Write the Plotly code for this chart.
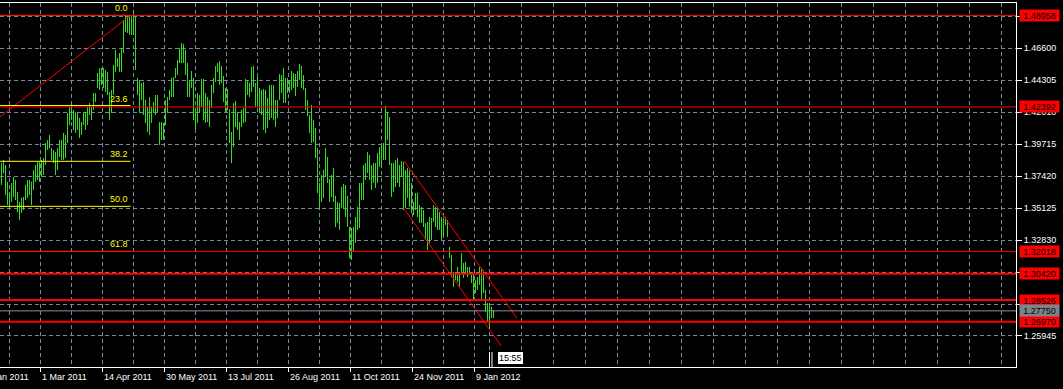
import plotly.graph_objects as go

# ---- daily bars (high / low), bar index 0 = first visible bar ----
bar_high = [
    1.3836, 1.3858, 1.3822, 1.3701, 1.3622, 1.3693, 1.3736, 1.3715, 1.3629, 1.3557,
    1.3586, 1.3593, 1.3679, 1.3715, 1.3715, 1.3701, 1.3786, 1.3822, 1.3844, 1.3844,
    1.3858, 1.3872, 1.3980, 1.4002, 1.4038, 1.3944, 1.3930, 1.3915, 1.3944, 1.4002,
    1.4002, 1.4052, 1.4038, 1.4196, 1.4239, 1.4267, 1.4217, 1.4203, 1.4196, 1.4160,
    1.4131, 1.4203, 1.4203, 1.4239, 1.4267, 1.4239, 1.4339, 1.4339, 1.4483, 1.4519,
    1.4519, 1.4519, 1.4504, 1.4490, 1.4346, 1.4361, 1.4540, 1.4648, 1.4590, 1.4626,
    1.4662, 1.4863, 1.4899, 1.4899, 1.4885, 1.4899, 1.4935, 1.4899, 1.4447, 1.4432,
    1.4411, 1.4418, 1.4289, 1.4239, 1.4310, 1.4239, 1.4274, 1.4325, 1.4325, 1.4131,
    1.4131, 1.4124, 1.4289, 1.4310, 1.4361, 1.4447, 1.4454, 1.4519, 1.4576, 1.4662,
    1.4698, 1.4691, 1.4648, 1.4555, 1.4432, 1.4497, 1.4447, 1.4232, 1.4339, 1.4325,
    1.4440, 1.4440, 1.4339, 1.4310, 1.4289, 1.4397, 1.4447, 1.4533, 1.4555, 1.4569,
    1.4533, 1.4461, 1.4375, 1.4368, 1.4224, 1.4059, 1.4267, 1.4282, 1.4203, 1.4131,
    1.4217, 1.4232, 1.4440, 1.4432, 1.4411, 1.4526, 1.4533, 1.4411, 1.4454, 1.4375,
    1.4361, 1.4368, 1.4361, 1.4303, 1.4397, 1.4397, 1.4397, 1.4289, 1.4289, 1.4476,
    1.4468, 1.4519, 1.4447, 1.4447, 1.4432, 1.4497, 1.4483, 1.4476, 1.4497, 1.4547,
    1.4533, 1.4468, 1.4375, 1.4289, 1.4181, 1.4253, 1.4145, 1.4088, 1.3944, 1.3693,
    1.3750, 1.3786, 1.3944, 1.3880, 1.3722, 1.3750, 1.3801, 1.3600, 1.3557, 1.3550,
    1.3665, 1.3686, 1.3679, 1.3600, 1.3377, 1.3370, 1.3377, 1.3449, 1.3521, 1.3693,
    1.3693, 1.3822, 1.3836, 1.3915, 1.3894, 1.3822, 1.3836, 1.3836, 1.3908, 1.3951,
    1.3966, 1.3980, 1.4246, 1.4203, 1.4167, 1.3836, 1.3836, 1.3858, 1.3872, 1.3822,
    1.3851, 1.3844, 1.3786, 1.3801, 1.3786, 1.3693, 1.3557, 1.3622, 1.3622, 1.3535,
    1.3521, 1.3499, 1.3406, 1.3413, 1.3449, 1.3442, 1.3535, 1.3521, 1.3514, 1.3485,
    1.3449, 1.3442, 1.3449, 1.3427, 1.3233, 1.3176, 1.3054, 1.3047, 1.3090, 1.3054,
    1.3190, 1.3119, 1.3126, 1.3090, 1.3090, 1.3054, 1.3047, 1.2997, 1.3018, 1.3090,
    1.3083, 1.3068, 1.2925, 1.2831, 1.2831, 1.2803, 1.2781,
]
bar_low = [
    1.3679, 1.3764, 1.3607, 1.3535, 1.3514, 1.3557, 1.3593, 1.3571, 1.3485, 1.3427,
    1.3478, 1.3499, 1.3571, 1.3586, 1.3607, 1.3535, 1.3643, 1.3701, 1.3715, 1.3701,
    1.3736, 1.3750, 1.3822, 1.3930, 1.3944, 1.3858, 1.3836, 1.3750, 1.3786, 1.3880,
    1.3858, 1.3858, 1.3872, 1.3980, 1.4109, 1.4145, 1.4074, 1.4052, 1.4074, 1.4016,
    1.4038, 1.4109, 1.4074, 1.4109, 1.4181, 1.4145, 1.4217, 1.4275, 1.4375, 1.4361,
    1.4397, 1.4375, 1.4346, 1.4325, 1.4145, 1.4196, 1.4325, 1.4490, 1.4526, 1.4490,
    1.4490, 1.4626, 1.4777, 1.4770, 1.4756, 1.4756, 1.4756, 1.4504, 1.4325, 1.4196,
    1.4289, 1.4181, 1.4124, 1.4059, 1.4038, 1.4124, 1.4196, 1.4181, 1.4203, 1.3966,
    1.4002, 1.4002, 1.4109, 1.4196, 1.4289, 1.4310, 1.4310, 1.4447, 1.4468, 1.4555,
    1.4555, 1.4555, 1.4468, 1.4310, 1.4310, 1.4375, 1.4145, 1.4074, 1.4124, 1.4196,
    1.4239, 1.4145, 1.4124, 1.4131, 1.4095, 1.4232, 1.4339, 1.4418, 1.4490, 1.4397,
    1.4411, 1.4274, 1.4203, 1.4217, 1.3980, 1.3836, 1.3951, 1.4095, 1.4074, 1.4002,
    1.4095, 1.4124, 1.4131, 1.4325, 1.4310, 1.4346, 1.4382, 1.4239, 1.4239, 1.4203,
    1.4181, 1.4074, 1.4052, 1.4088, 1.4145, 1.4160, 1.4145, 1.4095, 1.4160, 1.4289,
    1.4339, 1.4267, 1.4267, 1.4339, 1.4339, 1.4361, 1.4375, 1.4318, 1.4382, 1.4432,
    1.4375, 1.4361, 1.4217, 1.4174, 1.4052, 1.3980, 1.3987, 1.3872, 1.3621, 1.3499,
    1.3557, 1.3586, 1.3736, 1.3693, 1.3557, 1.3593, 1.3557, 1.3377, 1.3406, 1.3356,
    1.3514, 1.3514, 1.3449, 1.3377, 1.3155, 1.3140, 1.3198, 1.3262, 1.3356, 1.3370,
    1.3571, 1.3571, 1.3715, 1.3764, 1.3715, 1.3643, 1.3693, 1.3657, 1.3693, 1.3808,
    1.3801, 1.3858, 1.3858, 1.4002, 1.3822, 1.3593, 1.3629, 1.3664, 1.3693, 1.3664,
    1.3736, 1.3499, 1.3514, 1.3586, 1.3521, 1.3478, 1.3463, 1.3499, 1.3449, 1.3406,
    1.3406, 1.3377, 1.3284, 1.3212, 1.3262, 1.3284, 1.3413, 1.3377, 1.3356, 1.3356,
    1.3284, 1.3305, 1.3391, 1.3305, 1.3155, 1.3018, 1.2946, 1.2997, 1.2982, 1.2946,
    1.3047, 1.3011, 1.3047, 1.3018, 1.3047, 1.2975, 1.2853, 1.2903, 1.2925, 1.2961,
    1.2853, 1.2903, 1.2767, 1.2695, 1.2652, 1.2724, 1.2724,
]

# ---- axis labels ----
date_labels = ["14 Jan 2011", "1 Mar 2011", "14 Apr 2011", "30 May 2011", "13 Jul 2011",
               "26 Aug 2011", "11 Oct 2011", "24 Nov 2011", "9 Jan 2012"]
date_label_bars = [-11.5, 19.5, 50.5, 81.5, 112.5, 143.5, 174.5, 205.5, 236.5]
minor_grid_bars = [4, 35, 66, 97, 128, 159, 190, 221,
                   244.2, 260.2, 276.2, 292.2, 308.2, 324.2, 340.2, 356.2, 372.2,
                   388.2, 404.2, 420.2, 436.2, 452.2, 468.2, 484.2, 500.2]
price_ticks = [1.25945, 1.28240, 1.30535, 1.32830, 1.35125, 1.37420,
               1.39715, 1.42010, 1.44305, 1.46600, 1.48895]

# ---- chart objects ----
level_prices = [1.48958, 1.42392, 1.32018, 1.30420, 1.28526, 1.26970]
level_widths = [1, 1, 1, 2, 2, 2]
current_price = 1.27750

fib_levels = [0.0, 23.6, 38.2, 50.0, 61.8]
fib_anchor_bars = [-181, 64.5]
fib_anchor_prices = [1.21547, 1.48958]

channel_upper_bars = [201.2, 257.8]
channel_upper_prices = [1.3853, 1.2722]
channel_lower_bars = [201.2, 249.8]
channel_lower_prices = [1.3511, 1.2523]

time_marker_bars = [244, 245.25]
time_label = "15:55"
time_label_bar = 248

# ---- styling ----
BG = "#000000"
GRID = "#778899"
BAR = "#33dd22"
FONT = "Liberation Sans, Arial, sans-serif"
X_RANGE = [-0.75, 507.25]
Y_RANGE = [1.23719, 1.49852]
PLOT_W = 1016.0
PLOT_H = 364.0

fig = go.Figure()

# bars
bx, by = [], []
for i, (h, l) in enumerate(zip(bar_high, bar_low)):
    bx += [i, i, None]
    by += [l, h, None]
fig.add_trace(go.Scatter(x=bx, y=by, mode="lines", line=dict(color=BAR, width=1),
                         hoverinfo="skip", showlegend=False))

# fib diagonal
fig.add_trace(go.Scatter(x=fib_anchor_bars, y=fib_anchor_prices, mode="lines",
                         line=dict(color="#ff0000", width=1), hoverinfo="skip", showlegend=False))
# channel
fig.add_trace(go.Scatter(x=channel_upper_bars, y=channel_upper_prices, mode="lines",
                         line=dict(color="#ff0000", width=1), hoverinfo="skip", showlegend=False))
fig.add_trace(go.Scatter(x=channel_lower_bars, y=channel_lower_prices, mode="lines",
                         line=dict(color="#ff0000", width=1), hoverinfo="skip", showlegend=False))

shapes = []
annotations = []

fib_hi, fib_lo = fib_anchor_prices[1], fib_anchor_prices[0]
for lvl in fib_levels:
    p = fib_hi - (fib_hi - fib_lo) * lvl / 100.0
    shapes.append(dict(type="line", xref="x", yref="y", x0=fib_anchor_bars[0], x1=fib_anchor_bars[1],
                       y0=p, y1=p, line=dict(color="#ffff00", width=1), layer="above"))
    annotations.append(dict(x=fib_anchor_bars[1], y=p, xref="x", yref="y", text=f"{lvl:.1f}",
                            xanchor="right", yanchor="bottom", showarrow=False, xshift=-2, yshift=1,
                            borderpad=0, font=dict(family=FONT, size=9, color="#ffff00")))

# gray current price line
shapes.append(dict(type="line", xref="paper", yref="y", x0=0, x1=1, y0=current_price, y1=current_price,
                   line=dict(color="#8a9096", width=1), layer="above"))
for p, w in zip(level_prices, level_widths):
    shapes.append(dict(type="line", xref="paper", yref="y", x0=0, x1=1, y0=p, y1=p,
                       line=dict(color="#ff0000", width=w), layer="above"))

label_x = 1019.0 / PLOT_W
for p in level_prices:
    annotations.append(dict(x=label_x, y=p, xref="paper", yref="y", text=f"{p:.5f}",
                            xanchor="left", yanchor="middle", showarrow=False, bgcolor="#ff0000",
                            borderpad=0, width=39, height=11,
                            font=dict(family=FONT, size=9, color="#000000")))
annotations.append(dict(x=label_x, y=current_price, xref="paper", yref="y", text=f"{current_price:.5f}",
                        xanchor="left", yanchor="middle", showarrow=False, bgcolor="#7b848c",
                        borderpad=0, width=39, height=11,
                        font=dict(family=FONT, size=9, color="#000000")))

# date labels
for lab, b in zip(date_labels, date_label_bars):
    px = (b - X_RANGE[0]) * 2.0
    annotations.append(dict(x=px / PLOT_W, y=-10.5 / PLOT_H, xref="paper", yref="paper", text=lab,
                            xanchor="left", yanchor="middle", showarrow=False, borderpad=0,
                            font=dict(family=FONT, size=9, color="#ffffff")))

# time marker
for b in time_marker_bars:
    shapes.append(dict(type="line", xref="x", yref="paper", x0=b, x1=b, y0=0, y1=15 / PLOT_H,
                       line=dict(color="#ffffff", width=1), layer="above"))
annotations.append(dict(x=time_label_bar, y=9 / PLOT_H, xref="x", yref="paper", text=time_label,
                        xanchor="left", yanchor="middle", showarrow=False, bgcolor="#ffffff",
                        borderpad=1, bordercolor="#000000", borderwidth=0,
                        font=dict(family=FONT, size=9, color="#000000")))

fig.update_layout(
    width=1063, height=389,
    margin=dict(l=0, r=47, t=3, b=22, pad=0),
    paper_bgcolor=BG, plot_bgcolor=BG,
    showlegend=False,
    shapes=shapes, annotations=annotations,
    xaxis=dict(range=X_RANGE, showline=True, linecolor="#ffffff", linewidth=1, mirror=True,
               ticks="outside", ticklen=4, tickcolor="#ffffff", tickmode="array",
               tickvals=date_label_bars[1:], showticklabels=False,
               showgrid=True, gridcolor=GRID, gridwidth=1, griddash="4px,3px", zeroline=False,
               minor=dict(tickmode="array", tickvals=minor_grid_bars, showgrid=True,
                          gridcolor=GRID, gridwidth=1, griddash="4px,3px", ticks="")),
    yaxis=dict(range=Y_RANGE, side="right", showline=True, linecolor="#ffffff", linewidth=1,
               mirror=False, ticks="outside", ticklen=5, tickcolor="#ffffff",
               tickmode="array", tickvals=price_ticks, tickformat=".5f",
               tickfont=dict(family=FONT, size=9, color="#ffffff"),
               showgrid=True, gridcolor=GRID, gridwidth=1, griddash="4px,3px", zeroline=False),
)

fig.write_html("out.html")
